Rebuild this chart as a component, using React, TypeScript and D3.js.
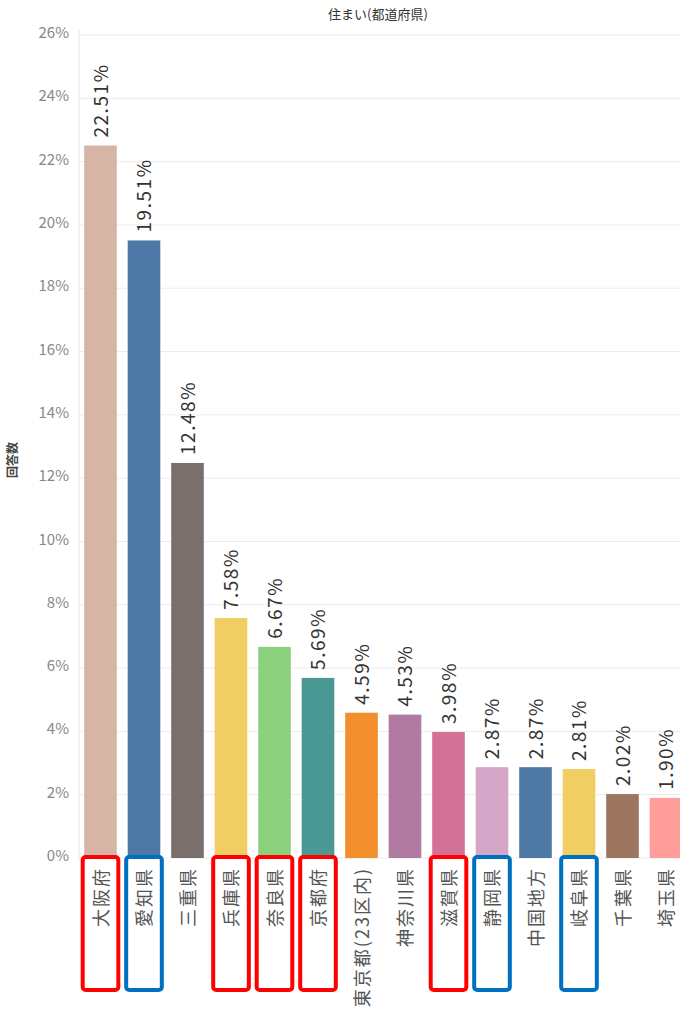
import React from "react";
import * as d3 from "d3";

const categories = ["大阪府", "愛知県", "三重県", "兵庫県", "奈良県", "京都府", "東京都(23区内)", "神奈川県", "滋賀県", "静岡県", "中国地方", "岐阜県", "千葉県", "埼玉県"];
const values = [22.51, 19.51, 12.48, 7.58, 6.67, 5.69, 4.59, 4.53, 3.98, 2.87, 2.87, 2.81, 2.02, 1.90];
const colors = ["#d7b5a6", "#4e79a7", "#79706e", "#f1ce63", "#8cd17d", "#499894", "#f28e2b", "#b07aa1", "#d37295", "#d4a6c8", "#4e79a7", "#f1ce63", "#9d7660", "#ff9d9a"];
const highlight = ["red", "blue", "", "red", "red", "red", "", "", "red", "blue", "", "blue", "", ""];
const yTicks = [0, 2, 4, 6, 8, 10, 12, 14, 16, 18, 20, 22, 24, 26];

const W = 680, H = 1023;
const FONT = "'Noto Sans CJK JP', 'Noto Sans', sans-serif";

export default function App() {
  const x = d3.scaleBand<string>().domain(categories).range([78.75, 687.75]).paddingInner(0.25).paddingOuter(0.125);
  const y = d3.scaleLinear().domain([0, 26]).range([858, 35]);
  const bw = x.bandwidth();
  const boxColor: Record<string, string> = { red: "#ff0000", blue: "#0070c0" };
  return (
    <svg width={W} height={H} style={{ position: "absolute", left: 0, top: 0, background: "#fff" }} fontFamily={FONT}>
      <text x={378} y={19} textAnchor="middle" fontSize={13} fill="#333">住まい(都道府県)</text>
      <text transform={`translate(17,460) rotate(-90)`} textAnchor="middle" fontSize={12} fontWeight="bold" fill="#444">回答数</text>
      {yTicks.map((t) => (
        <g key={t}>
          <line x1={79} x2={W} y1={y(t)} y2={y(t)} stroke="#ececec" strokeWidth={1} />
          <text x={69} y={y(t) - 1} textAnchor="end" dominantBaseline="middle" fontSize={15} fill="#888">{t}%</text>
        </g>
      ))}
      <line x1={79} x2={79} y1={30} y2={860} stroke="#e6e6e6" strokeWidth={1} />
      {categories.map((c, i) => {
        const bx = x(c)!;
        const cx = bx + bw / 2;
        return (
          <g key={c}>
            <rect x={bx} y={y(values[i])} width={bw} height={y(0) - y(values[i])} fill={colors[i]} />
            <text transform={`translate(${cx + 7},${y(values[i]) - 8}) rotate(-90)`} fontSize={19} letterSpacing={1.5} fill="#333">{values[i].toFixed(2)}%</text>
            <text transform={`translate(${cx + 7},867) rotate(-90)`} textAnchor="end" fontSize={18} letterSpacing={2} fill="#555">{c}</text>
            {highlight[i] && (
              <rect x={bx - 1.5} y={857} width={bw + 3} height={133} rx={3} fill="none" stroke={boxColor[highlight[i]]} strokeWidth={4} />
            )}
          </g>
        );
      })}
    </svg>
  );
}
